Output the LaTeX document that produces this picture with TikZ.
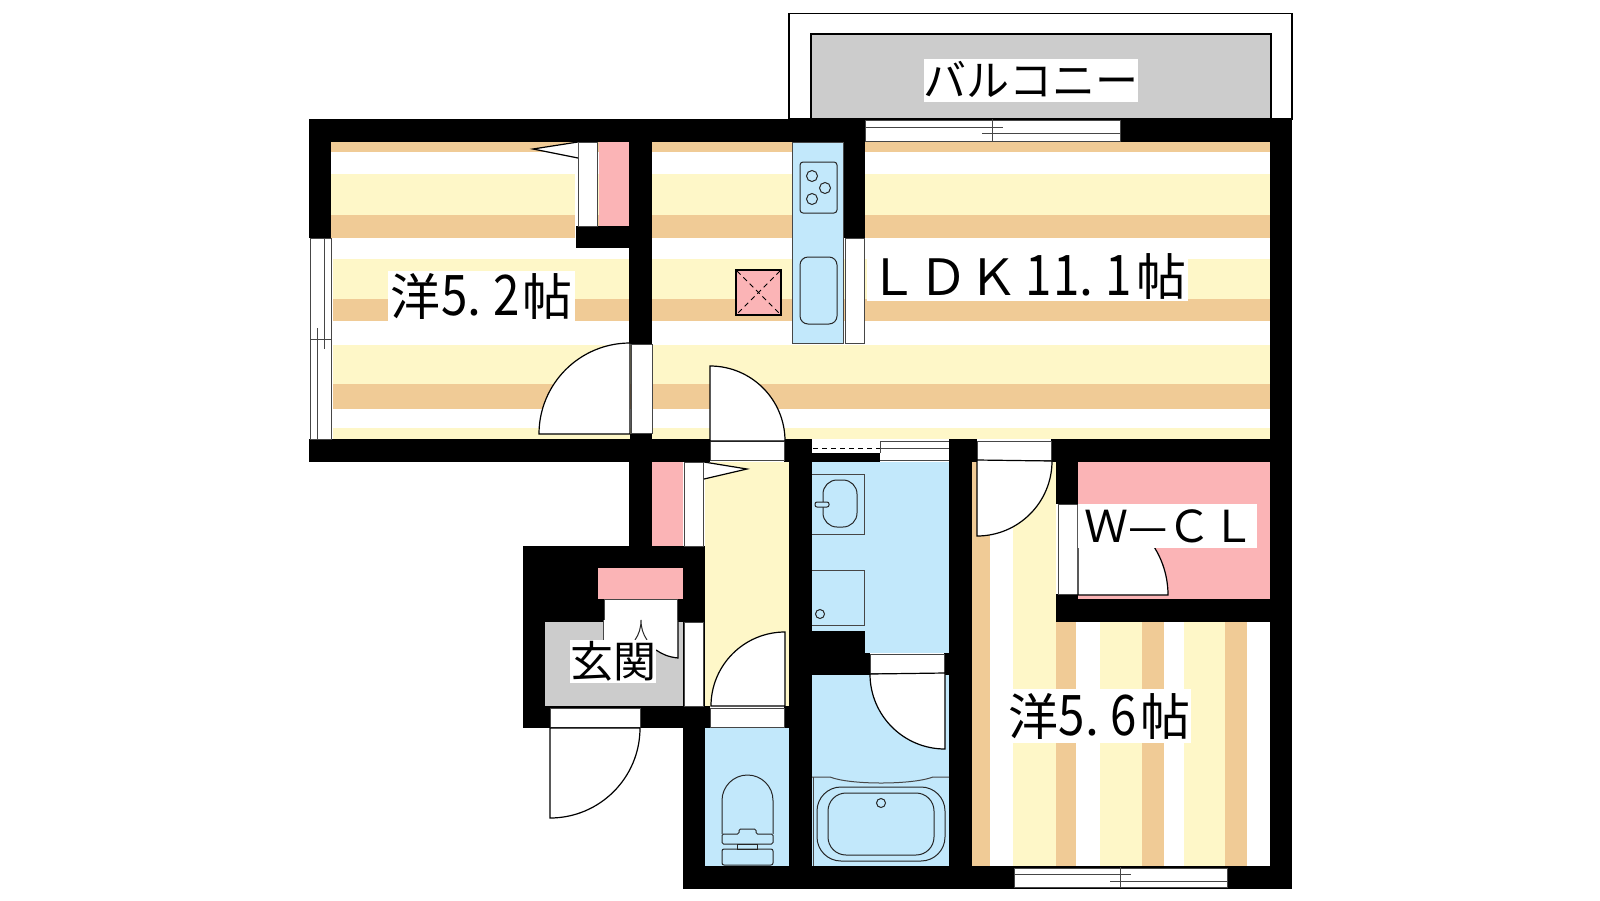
\documentclass[tikz,border=0pt]{standalone}
\usepackage{graphicx}
\usepackage{fontspec}
\setmainfont{Noto Sans CJK JP}
\usepackage{tikz}
\definecolor{tanband}{RGB}{240,203,150}
\definecolor{creamband}{RGB}{254,247,200}
\definecolor{wetblue}{RGB}{194,232,251}
\definecolor{closetpink}{RGB}{251,180,182}
\definecolor{floorgray}{RGB}{204,204,204}
\definecolor{panelline}{RGB}{70,70,70}
\newcommand{\halfdigit}[1]{\makebox[28pt]{\scalebox{0.95}[1.12]{#1}}}
\newcommand{\dotnumber}[2]{\halfdigit{#1}\makebox[12pt]{.}\hspace{12pt}\halfdigit{#2}\hspace{2pt}}

\begin{document}
\begin{tikzpicture}[x=1pt,y=1pt,
		wall/.style={fill=black},
		panel/.style={fill=white,draw=panelline,line width=1pt},
		door/.style={fill=white,draw=black,line width=1.2pt},
		fixture/.style={draw=black!85,line width=1pt},
		edge/.style={draw=panelline,line width=1pt},
		roomlabel/.style={fill=white,inner sep=0pt,align=center,text=black},
		bigtext/.style={font=\fontsize{50}{50}\selectfont,text height=44pt,text depth=6pt},
		smalltext/.style={font=\fontsize{43}{43}\selectfont,text height=37.8pt,text depth=5.2pt}]
			\useasboundingbox (0,0) rectangle (1600,-900);
			\fill [white] (0,0) rectangle (1600,-900);
			\draw [black,line width=1.2pt,fill=white] (789,-13.5) rectangle (1292,-119);
			\draw [black,line width=1.2pt,fill=floorgray] (811,-34) rectangle (1271,-119);
			\fill [tanband] (331,-142) rectangle (1270,-152);
			\fill [creamband] (331,-174) rectangle (1270,-215);
			\fill [tanband] (331,-215) rectangle (1270,-238);
			\fill [creamband] (333,-259) rectangle (1270,-299);
			\fill [tanband] (333,-299) rectangle (1270,-321);
			\fill [creamband] (333,-345) rectangle (1270,-384);
			\fill [tanband] (333,-384) rectangle (1270,-409);
			\fill [creamband] (333,-428) rectangle (1270,-439);
			\fill [white] (575,-142) rectangle (578,-238);
			\fill [tanband] (972,-462) rectangle (990,-866);
			\fill [creamband] (1013,-462) rectangle (1056,-866);
			\fill [tanband] (1056,-622) rectangle (1076,-866);
			\fill [creamband] (1100,-622) rectangle (1142,-866);
			\fill [tanband] (1142,-622) rectangle (1164,-866);
			\fill [creamband] (1184,-622) rectangle (1225,-866);
			\fill [tanband] (1225,-622) rectangle (1247,-866);
			\fill [creamband] (705,-462) rectangle (789,-706);
			\fill [wetblue] (705,-728) rectangle (789,-866);
			\fill [wetblue] (812,-462) rectangle (949,-653);
			\fill [wetblue] (812,-675) rectangle (949,-866);
			\fill [closetpink] (1078,-462) rectangle (1270,-599);
			\fill [closetpink] (599,-142) rectangle (629,-226);
			\fill [closetpink] (652,-462) rectangle (683,-546);
			\fill [wall] (309,-119) rectangle (865,-142);
			\fill [wall] (1120,-119) rectangle (1292,-142);
			\fill [wall] (309,-142) rectangle (331,-238);
			\fill [wall] (309,-439) rectangle (710,-462);
			\fill [wall] (629,-142) rectangle (652,-344);
			\fill [wall] (630,-434) rectangle (652,-439);
			\fill [wall] (576,-226) rectangle (629,-248);
			\fill [wall] (843,-142) rectangle (865,-238);
			\fill [wall] (1270,-142) rectangle (1292,-889);
			\fill [wall] (784,-439) rectangle (812,-462);
			\fill [wall] (789,-462) rectangle (812,-866);
			\fill [wall] (812,-453) rectangle (880,-462);
			\fill [wall] (949,-439) rectangle (977,-462);
			\fill [wall] (949,-462) rectangle (972,-866);
			\fill [wall] (1051,-439) rectangle (1270,-462);
			\fill [wall] (1056,-462) rectangle (1078,-504);
			\fill [wall] (1056,-594) rectangle (1078,-622);
			\fill [wall] (1078,-599) rectangle (1270,-622);
			\fill [wall] (629,-462) rectangle (652,-546);
			\fill [wall] (523,-546) rectangle (705,-728);
			\fill [wall] (683,-728) rectangle (705,-889);
			\fill [wall] (705,-706) rectangle (710,-728);
			\fill [wall] (784,-706) rectangle (789,-728);
			\fill [wall] (683,-866) rectangle (1292,-889);
			\fill [wall] (812,-631) rectangle (865,-675);
			\fill [wall] (865,-653) rectangle (870,-675);
			\fill [wall] (944,-653) rectangle (949,-675);
			\fill [floorgray] (545,-622) rectangle (683,-706);
			\fill [closetpink] (598,-568) rectangle (683,-599);
			\draw [panel] (310,-238) rectangle (331,-439);
			\draw [edge] (317,-328) -- (317,-439);
			\draw [edge] (324,-238) -- (324,-349);
			\draw [edge] (310,-339) -- (331,-339);
			\draw [panel] (865,-120) rectangle (1120,-141);
			\draw [edge] (865,-127) -- (1003,-127);
			\draw [edge] (982,-133) -- (1120,-133);
			\draw [edge] (992,-119) -- (992,-142);
			\draw [panel] (1014,-868) rectangle (1227,-887);
			\draw [edge] (1014,-874) -- (1131,-874);
			\draw [edge] (1110,-881) -- (1227,-881);
			\draw [edge] (1120,-867) -- (1120,-888);
			\draw [panel] (578,-142) rectangle (597,-226);
			\draw [panel] (684,-462) rectangle (703,-546);
			\draw [panel] (684,-622) rectangle (703,-706);
			\draw [panel] (845,-238) rectangle (864,-343);
			\draw [panel] (631,-344) rectangle (652,-433);
			\draw [panel] (710,-441) rectangle (784,-460);
			\draw [panel] (710,-708) rectangle (784,-727);
			\draw [panel] (977,-441) rectangle (1051,-460);
			\draw [panel] (870,-654) rectangle (944,-673);
			\draw [panel] (1058,-504) rectangle (1078,-594);
			\draw [panel] (550,-708) rectangle (640,-727);
			\draw [panel] (604,-599) rectangle (677,-620);
			\fill [white] (812,-440) rectangle (880,-453);
			\draw [black,line width=1pt,dash pattern=on 5pt off 4pt] (813,-448) -- (880,-448);
			\fill [white] (880,-441) rectangle (949,-460);
			\draw [edge] (880,-441) -- (949,-441);
			\draw [edge] (880,-448) -- (949,-448);
			\draw [edge] (880,-460) -- (949,-460);
			\draw [edge] (880,-441) -- (880,-453);
			\draw [door] (630,-434) -- (630,-343) arc (90:180:91) -- cycle;
			\draw [door] (710,-441) -- (710,-366) arc (90:0:75) -- cycle;
			\draw [door] (785,-706) -- (785,-632) arc (90:180:74) -- cycle;
			\draw [door] (977,-460) -- (977,-536) arc (270:360:75) -- cycle;
			\draw [door] (945,-673) -- (945,-749) arc (270:180:75) -- cycle;
			\draw [door] (550,-728) -- (550,-818) arc (270:360:90) -- cycle;
			\draw [door] (1078,-595) -- (1168,-595) arc (0:90:90) -- cycle;
			\draw [door] (578,-142) -- (533,-149) -- (578,-158);
			\draw [door] (704,-462) -- (747,-469) -- (704,-479);
			\fill [white] (603,-620) -- (678,-620) -- (678,-658) .. controls (668,-657) and (662,-654) .. (656,-650) -- (656,-640) -- (603,-640) -- cycle;
			\draw [edge] (603,-620) -- (603,-640);
			\draw [door,fill=none] (678,-620) -- (678,-658) .. controls (668,-657) and (662,-654) .. (656,-650);
			\draw [fixture] (635,-640) .. controls (639,-634) and (641,-628) .. (641,-620) .. controls (641,-628) and (643,-634) .. (647,-640);
			\draw [edge,fill=wetblue] (792,-142) rectangle (843,-343);
			\draw [fixture,rounded corners=3pt] (800,-162) rectangle (837,-213);
			\draw [fixture] (812,-176) circle (5.5);
			\draw [fixture] (825,-188) circle (5.5);
			\draw [fixture] (812,-199) circle (5.5);
			\draw [fixture,rounded corners=8pt] (800,-257) rectangle (837,-324);
			\draw [black,line width=1.2pt,fill=closetpink] (736,-270) rectangle (781,-315);
			\draw [black,line width=1pt,dash pattern=on 5pt off 4pt] (737,-271) -- (780,-314);
			\draw [black,line width=1pt,dash pattern=on 5pt off 4pt] (780,-271) -- (737,-314);
			\draw [edge] (812,-474) -- (864,-474) -- (864,-534) -- (812,-534);
			\draw [fixture,rounded corners=14pt] (823,-480) rectangle (857,-527);
			\draw [fixture,fill=wetblue,rounded corners=2pt] (815,-502) rectangle (829,-507);
			\draw [edge] (812,-570) -- (864,-570) -- (864,-625) -- (812,-625);
			\draw [fixture] (820,-614) circle (4.5);
			\draw [edge] (812,-777) -- (830,-777) .. controls (850,-785) and (912,-785) .. (933,-777) -- (949,-777);
			\draw [edge] (813,-777) -- (813,-866);
			\draw [fixture,rounded corners=24pt] (817,-787) rectangle (945,-861);
			\draw [fixture,rounded corners=18pt] (828,-793) rectangle (934,-855);
			\draw [fixture] (881,-803) circle (4.5);
			\draw [fixture] (722,-834) -- (722,-800.5) arc (180:0:25.5) -- (773,-834);
			\draw [fixture,rounded corners=1.5pt] (722,-834) -- (739,-834) -- (739,-829) -- (756,-829) -- (756,-834) -- (773,-834) -- (773,-844) -- (722,-844) -- cycle;
			\draw [fixture] (737,-844) rectangle (757,-849);
			\draw [fixture,rounded corners=2pt] (722,-849) rectangle (773,-865);
			\draw (1031,-80) node (balconylabel) [roomlabel,smalltext,minimum width=214pt,minimum height=42pt] {バルコニー};
			\draw (481.5,-296) node (westlabel) [roomlabel,bigtext,minimum width=187pt,minimum height=50pt] {洋\dotnumber{5}{2}帖};
			\draw (1027.5,-276) node (ldklabel) [roomlabel,bigtext,minimum width=321pt,minimum height=50pt] {ＬＤＫ\hspace{6pt}\halfdigit{1}\dotnumber{1}{1}\hspace{2pt}帖};
			\draw (1099,-716) node (eastlabel) [roomlabel,bigtext,minimum width=184pt,minimum height=54pt] {洋\dotnumber{5}{6}帖};
			\draw (1167.5,-525.5) node (closetlabel) [roomlabel,font=\fontsize{44}{44}\selectfont,text height=38.7pt,text depth=5.3pt,minimum width=179pt,minimum height=43pt] {\makebox[177pt][l]{\hspace{5pt}Ｗ—ＣＬ}};
			\draw (613,-661.5) node (entrylabel) [roomlabel,smalltext,minimum width=86pt,minimum height=43pt] {玄関};
			\end{tikzpicture}
\end{document}
